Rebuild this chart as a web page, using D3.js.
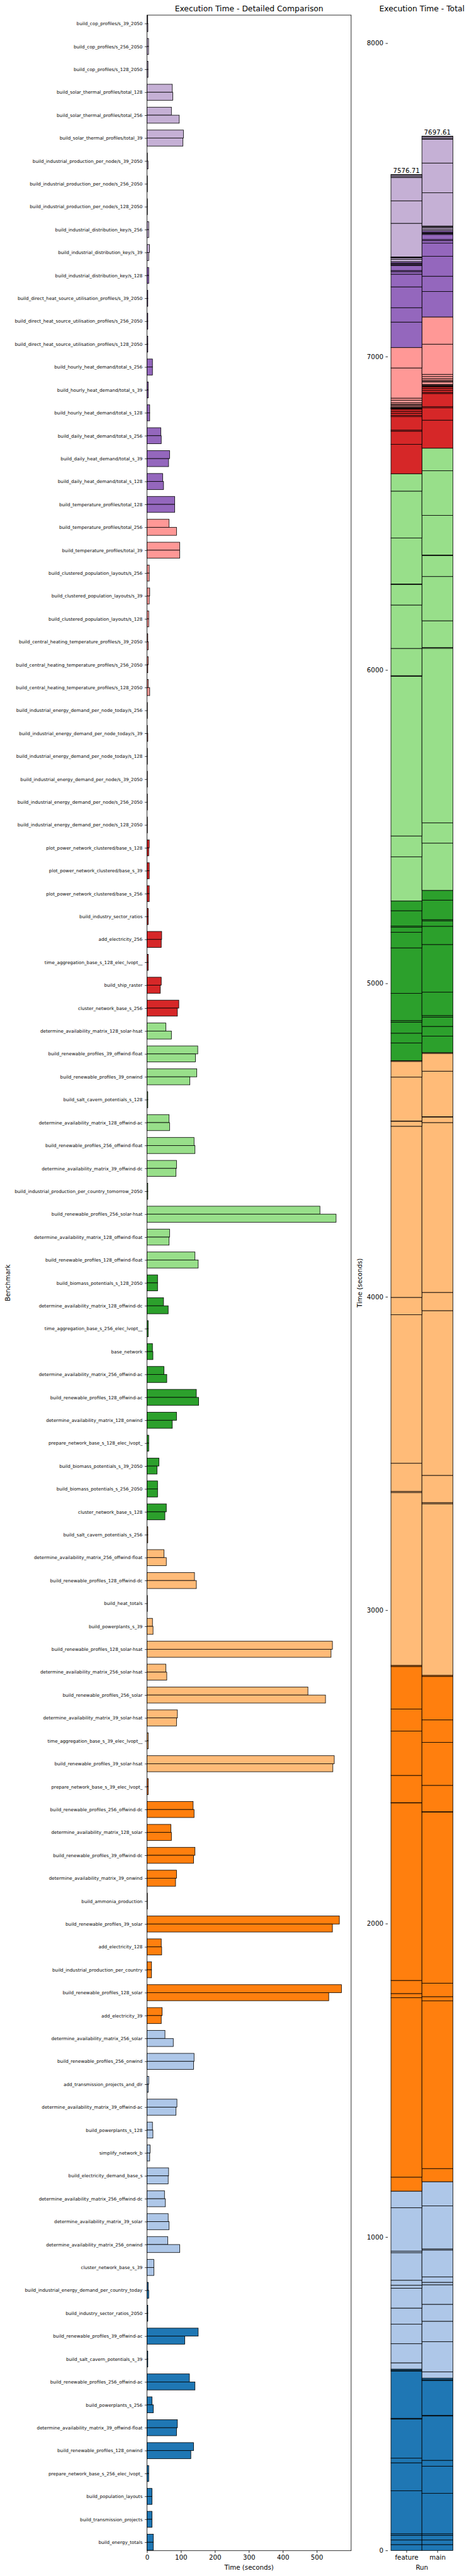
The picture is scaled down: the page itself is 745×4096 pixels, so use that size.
<!DOCTYPE html>
<html><head><meta charset="utf-8">
<script src="https://cdn.jsdelivr.net/npm/d3@7"></script>
<style>
body{margin:0;background:#fff}
svg{display:block}
</style>
</head><body><svg id="c"></svg>
<script>
// ---------------- DATA (top-to-bottom as displayed) ----------------
const benchmarks = [
"build_cop_profiles/s_39_2050","build_cop_profiles/s_256_2050","build_cop_profiles/s_128_2050",
"build_solar_thermal_profiles/total_128","build_solar_thermal_profiles/total_256","build_solar_thermal_profiles/total_39",
"build_industrial_production_per_node/s_39_2050","build_industrial_production_per_node/s_256_2050","build_industrial_production_per_node/s_128_2050",
"build_industrial_distribution_key/s_256","build_industrial_distribution_key/s_39","build_industrial_distribution_key/s_128",
"build_direct_heat_source_utilisation_profiles/s_39_2050","build_direct_heat_source_utilisation_profiles/s_256_2050","build_direct_heat_source_utilisation_profiles/s_128_2050",
"build_hourly_heat_demand/total_s_256","build_hourly_heat_demand/total_s_39","build_hourly_heat_demand/total_s_128",
"build_daily_heat_demand/total_s_256","build_daily_heat_demand/total_s_39","build_daily_heat_demand/total_s_128",
"build_temperature_profiles/total_128","build_temperature_profiles/total_256","build_temperature_profiles/total_39",
"build_clustered_population_layouts/s_256","build_clustered_population_layouts/s_39","build_clustered_population_layouts/s_128",
"build_central_heating_temperature_profiles/s_39_2050","build_central_heating_temperature_profiles/s_256_2050","build_central_heating_temperature_profiles/s_128_2050",
"build_industrial_energy_demand_per_node_today/s_256","build_industrial_energy_demand_per_node_today/s_39","build_industrial_energy_demand_per_node_today/s_128",
"build_industrial_energy_demand_per_node/s_39_2050","build_industrial_energy_demand_per_node/s_256_2050","build_industrial_energy_demand_per_node/s_128_2050",
"plot_power_network_clustered/base_s_128","plot_power_network_clustered/base_s_39","plot_power_network_clustered/base_s_256",
"build_industry_sector_ratios","add_electricity_256","time_aggregation_base_s_128_elec_lvopt__",
"build_ship_raster","cluster_network_base_s_256","determine_availability_matrix_128_solar-hsat",
"build_renewable_profiles_39_offwind-float","build_renewable_profiles_39_onwind","build_salt_cavern_potentials_s_128",
"determine_availability_matrix_128_offwind-ac","build_renewable_profiles_256_offwind-float","determine_availability_matrix_39_offwind-dc",
"build_industrial_production_per_country_tomorrow_2050","build_renewable_profiles_256_solar-hsat","determine_availability_matrix_128_offwind-float",
"build_renewable_profiles_128_offwind-float","build_biomass_potentials_s_128_2050","determine_availability_matrix_128_offwind-dc",
"time_aggregation_base_s_256_elec_lvopt__","base_network","determine_availability_matrix_256_offwind-ac",
"build_renewable_profiles_128_offwind-ac","determine_availability_matrix_128_onwind","prepare_network_base_s_128_elec_lvopt_",
"build_biomass_potentials_s_39_2050","build_biomass_potentials_s_256_2050","cluster_network_base_s_128",
"build_salt_cavern_potentials_s_256","determine_availability_matrix_256_offwind-float","build_renewable_profiles_128_offwind-dc",
"build_heat_totals","build_powerplants_s_39","build_renewable_profiles_128_solar-hsat",
"determine_availability_matrix_256_solar-hsat","build_renewable_profiles_256_solar","determine_availability_matrix_39_solar-hsat",
"time_aggregation_base_s_39_elec_lvopt__","build_renewable_profiles_39_solar-hsat","prepare_network_base_s_39_elec_lvopt_",
"build_renewable_profiles_256_offwind-dc","determine_availability_matrix_128_solar","build_renewable_profiles_39_offwind-dc",
"determine_availability_matrix_39_onwind","build_ammonia_production","build_renewable_profiles_39_solar",
"add_electricity_128","build_industrial_production_per_country","build_renewable_profiles_128_solar",
"add_electricity_39","determine_availability_matrix_256_solar","build_renewable_profiles_256_onwind",
"add_transmission_projects_and_dlr","determine_availability_matrix_39_offwind-ac","build_powerplants_s_128",
"simplify_network_b","build_electricity_demand_base_s","determine_availability_matrix_256_offwind-dc",
"determine_availability_matrix_39_solar","determine_availability_matrix_256_onwind","cluster_network_base_s_39",
"build_industrial_energy_demand_per_country_today","build_industry_sector_ratios_2050","build_renewable_profiles_39_offwind-ac",
"build_salt_cavern_potentials_s_39","build_renewable_profiles_256_offwind-ac","build_powerplants_s_256",
"determine_availability_matrix_39_offwind-float","build_renewable_profiles_128_onwind","prepare_network_base_s_256_elec_lvopt_",
"build_population_layouts","build_transmission_projects","build_energy_totals"
];

const featureTimes = [
2.2, 4.5, 3.0, 74.5, 71.8, 107.2, 1.0, 1.0, 1.0, 5.0,
7.2, 5.0, 2.4, 2.4, 2.4, 16.0, 3.8, 7.9, 40.5, 66.4,
46.0, 81.3, 65.0, 96.3, 6.5, 7.9, 5.0, 2.4, 3.8, 3.8,
1.0, 1.0, 1.0, 1.0, 1.0, 1.0, 6.5, 6.5, 6.5, 3.8,
43.2, 3.8, 41.9, 93.6, 55.5, 149.4, 146.6, 2.4, 65.0, 138.5,
86.8, 2.4, 509.2, 66.4, 141.2, 31.0, 48.7, 3.8, 16.0, 50.0,
145.3, 86.8, 5.0, 35.1, 31.0, 56.8, 2.4, 50.0, 139.8, 1.0,
16.0, 546.0, 55.5, 473.8, 89.5, 3.8, 551.4, 3.8, 135.8, 70.4,
141.2, 86.8, 1.0, 566.4, 41.9, 13.3, 572.5, 44.6, 52.8, 138.5,
5.0, 88.1, 16.0, 9.2, 63.6, 51.4, 62.3, 60.9, 20.1, 3.8,
2.4, 150.7, 2.4, 124.9, 14.7, 89.5, 137.1, 5.0, 14.7, 14.7, 18.7
];

const mainTimes = [
2.7, 4.5, 3.0, 75.9, 94.9, 105.8, 3.0, 1.0, 1.0, 5.0,
5.0, 5.0, 2.4, 2.4, 2.4, 16.0, 3.8, 7.9, 41.9, 63.6,
48.7, 81.3, 86.8, 96.3, 6.5, 6.5, 5.0, 3.8, 2.4, 7.9,
1.0, 2.4, 1.0, 1.0, 1.0, 1.0, 5.0, 6.5, 6.5, 3.8,
41.9, 3.8, 39.2, 89.5, 71.8, 142.6, 126.2, 2.4, 66.4, 141.2,
85.4, 2.4, 556.8, 65.0, 150.7, 31.0, 62.3, 3.8, 17.4, 58.2,
152.1, 74.5, 5.0, 29.6, 31.0, 52.7, 2.4, 56.8, 145.3, 1.0,
17.7, 541.9, 58.2, 525.6, 86.8, 3.8, 547.3, 3.8, 138.5, 71.8,
137.1, 84.1, 1.0, 546.0, 43.2, 13.3, 535.1, 41.9, 77.3, 137.1,
3.8, 85.4, 17.4, 7.9, 62.3, 54.1, 65.0, 96.3, 20.1, 5.0,
2.4, 111.3, 2.4, 141.2, 18.7, 86.8, 129.0, 5.0, 14.7, 14.7, 18.7
];

const runs = ["feature", "main"];
const runTotals = [7576.71, 7697.61];
const xTicks = [0, 100, 200, 300, 400, 500];
const yTicksTotal = [0, 1000, 2000, 3000, 4000, 5000, 6000, 7000, 8000];

// ---------------- STYLE / LAYOUT (reference pixel units) ----------------
const S = 745 / 1008;
const FONT = "DejaVu Sans, Liberation Sans, sans-serif";
const palette = ["#1f77b4","#aec7e8","#ff7f0e","#ffbb78","#2ca02c","#98df8a","#d62728","#ff9896","#9467bd","#c5b0d5"];
const TICK = 4.86, PAD = 4.86, EDGE = 1.1;

const svg = d3.select("#c").attr("width", 745).attr("height", 4096);
svg.append("rect").attr("width", 745).attr("height", 4096).attr("fill", "#fff");
const g = svg.append("g").attr("transform", `scale(${S})`);

const n = benchmarks.length;
const rows = benchmarks.map((name, k) => ({ name, pos: n - 1 - k, feature: featureTimes[k], main: mainTimes[k] }));
const colorOf = pos => palette[pos < 12 ? 0 : Math.min(9, Math.floor((pos - 1) / 11))];

// ---------------- LEFT PANEL ----------------
const L = { x0: 316, x1: 754.7, y0: 32.5, y1: 5487.5 };
const x = d3.scaleLinear().domain([0, d3.max(featureTimes.concat(mainTimes)) * 1.05]).range([L.x0, L.x1]);
const y = d3.scaleLinear().domain([-0.37, n - 1 + 0.37]).range([L.y1, L.y0]);
const bh = 0.35;

const left = g.append("g");
left.selectAll("rect.f").data(rows).join("rect").attr("class", "f")
  .attr("x", x(0)).attr("y", d => y(d.pos + bh))
  .attr("width", d => x(d.feature) - x(0)).attr("height", d => y(d.pos) - y(d.pos + bh))
  .attr("fill", d => colorOf(d.pos)).attr("stroke", "#000").attr("stroke-width", EDGE);
left.selectAll("rect.m").data(rows).join("rect").attr("class", "m")
  .attr("x", x(0)).attr("y", d => y(d.pos))
  .attr("width", d => x(d.main) - x(0)).attr("height", d => y(d.pos - bh) - y(d.pos))
  .attr("fill", d => colorOf(d.pos)).attr("stroke", "#000").attr("stroke-width", EDGE);

const nameByPos = new Map(rows.map(r => [r.pos, r.name]));
const yAxis = left.append("g").attr("transform", `translate(${L.x0},0)`)
  .call(d3.axisLeft(y).tickValues(rows.map(r => r.pos)).tickFormat(p => nameByPos.get(p)).tickSize(TICK).tickPadding(PAD));
yAxis.select(".domain").remove();
yAxis.attr("font-family", FONT).attr("font-size", 9.72);
yAxis.selectAll("line").attr("stroke-width", EDGE);

const xAxis = left.append("g").attr("transform", `translate(0,${L.y1})`)
  .call(d3.axisBottom(x).tickValues(xTicks).tickFormat(d3.format("d")).tickSize(TICK).tickPadding(PAD));
xAxis.select(".domain").remove();
xAxis.attr("font-family", FONT).attr("font-size", 13.89);
xAxis.selectAll("line").attr("stroke-width", EDGE);

left.append("rect").attr("x", L.x0).attr("y", L.y0).attr("width", L.x1 - L.x0).attr("height", L.y1 - L.y0)
  .attr("fill", "none").attr("stroke", "#000").attr("stroke-width", EDGE);

left.append("text").attr("x", (L.x0 + L.x1) / 2).attr("y", 24.2).attr("text-anchor", "middle")
  .attr("font-family", FONT).attr("font-size", 16.67).text("Execution Time - Detailed Comparison");
left.append("text").attr("x", (L.x0 + L.x1) / 2).attr("y", 5528).attr("text-anchor", "middle")
  .attr("font-family", FONT).attr("font-size", 13.89).text("Time (seconds)");
left.append("text").attr("transform", `translate(21,${(L.y0 + L.y1) / 2}) rotate(-90)`).attr("text-anchor", "middle")
  .attr("font-family", FONT).attr("font-size", 13.89).text("Benchmark");

// ---------------- RIGHT PANEL (stacked totals) ----------------
const R = { x0: 833.6, x1: 980, y0: 33, y1: 5487 };
const bottomUp = rows.slice().sort((a, b) => a.pos - b.pos);
const keys = bottomUp.map(r => r.name);
const runData = runs.map((run, i) => {
  const o = { run, idx: i };
  bottomUp.forEach(r => { o[r.name] = r[run]; });
  return o;
});
const series = d3.stack().keys(keys)(runData);
const stackTops = runs.map((run, i) => d3.sum(bottomUp, r => r[run]));
const xr = d3.scaleLinear().domain([-0.6, 1.6]).range([R.x0, R.x1]);
const yr = d3.scaleLinear().domain([0, d3.max(stackTops) * 1.05]).range([R.y1, R.y0]);

const right = g.append("g");
series.forEach((s, si) => {
  const col = colorOf(bottomUp[si].pos);
  right.selectAll(null).data(s).join("rect")
    .attr("x", d => xr(d.data.idx - 0.5)).attr("width", d => xr(d.data.idx + 0.5) - xr(d.data.idx - 0.5))
    .attr("y", d => yr(d[1])).attr("height", d => yr(d[0]) - yr(d[1]))
    .attr("fill", col).attr("stroke", "#000").attr("stroke-width", EDGE);
});

right.selectAll("text.tot").data(runs).join("text").attr("class", "tot")
  .attr("x", (r, i) => xr(i)).attr("y", (r, i) => yr(stackTops[i]) - 3)
  .attr("text-anchor", "middle").attr("font-family", FONT).attr("font-size", 13.89)
  .text((r, i) => runTotals[i].toFixed(2));

const yrAxis = right.append("g").attr("transform", `translate(${R.x0},0)`)
  .call(d3.axisLeft(yr).tickValues(yTicksTotal).tickFormat(d3.format("d")).tickSize(TICK).tickPadding(PAD));
yrAxis.select(".domain").remove();
yrAxis.attr("font-family", FONT).attr("font-size", 13.89);
yrAxis.selectAll("line").attr("stroke-width", EDGE);

const xrAxis = right.append("g").attr("transform", `translate(0,${R.y1})`)
  .call(d3.axisBottom(xr).tickValues([0, 1]).tickFormat(i => runs[i]).tickSize(TICK).tickPadding(PAD));
xrAxis.select(".domain").remove();
xrAxis.attr("font-family", FONT).attr("font-size", 13.89);
xrAxis.selectAll("line").attr("stroke-width", EDGE);

right.append("text").attr("x", (R.x0 + R.x1) / 2).attr("y", 24.2).attr("text-anchor", "middle")
  .attr("font-family", FONT).attr("font-size", 16.67).text("Execution Time - Total");
right.append("text").attr("x", (R.x0 + R.x1) / 2).attr("y", 5528).attr("text-anchor", "middle")
  .attr("font-family", FONT).attr("font-size", 13.89).text("Run");
right.append("text").attr("transform", `translate(778,${(R.y0 + R.y1) / 2}) rotate(-90)`).attr("text-anchor", "middle")
  .attr("font-family", FONT).attr("font-size", 13.89).text("Time (seconds)");
</script>
</body></html>
